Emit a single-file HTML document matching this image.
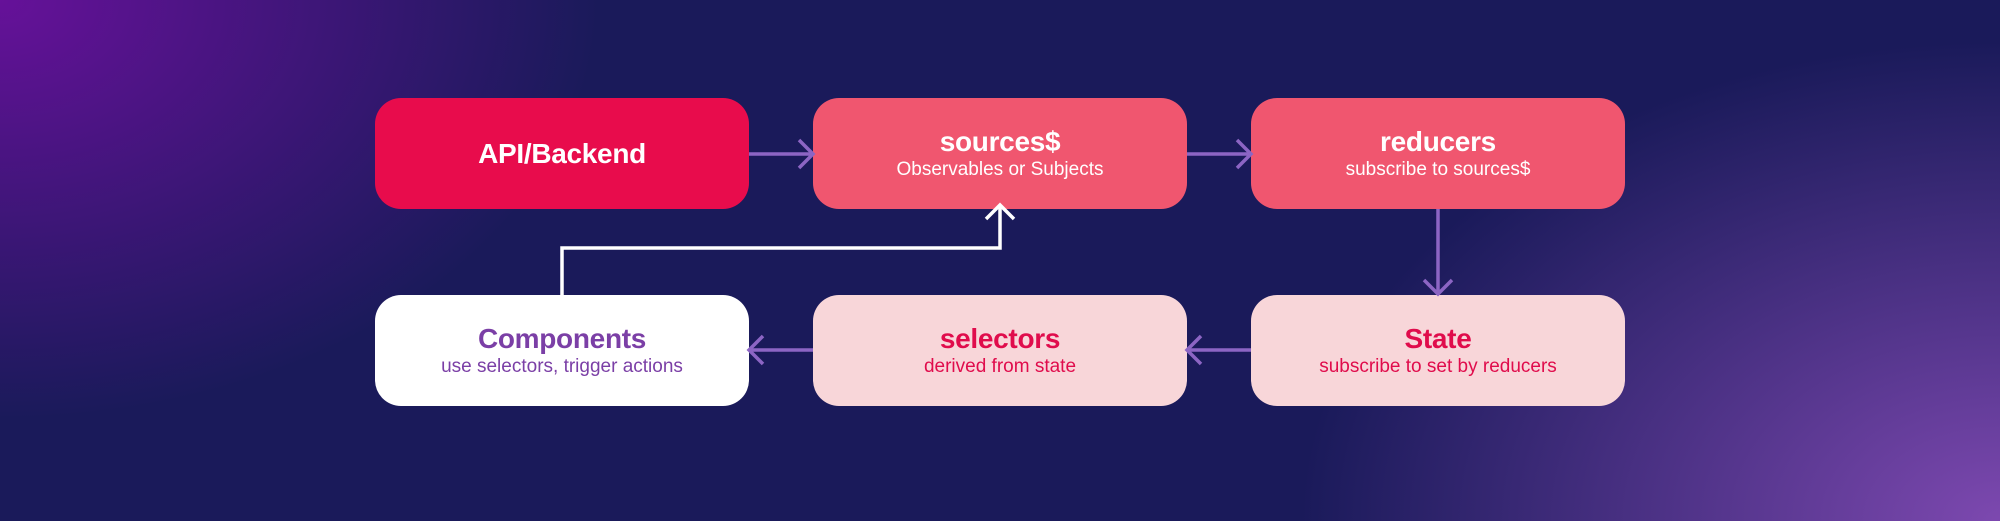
<!DOCTYPE html>
<html><head><meta charset="utf-8"><style>
html,body{margin:0;padding:0}
body{width:2000px;height:521px;position:relative;overflow:hidden;font-family:"Liberation Sans",sans-serif;
background:
radial-gradient(ellipse 600px 420px at 0% 0%, rgba(110,16,160,0.9), rgba(110,16,160,0) 100%),
radial-gradient(ellipse 700px 480px at 100% 100%, rgba(130,75,180,0.95), rgba(130,75,180,0) 100%),
#1a1a5a;}
.b{position:absolute;width:374px;height:111px;border-radius:26px;display:flex;flex-direction:column;align-items:center;justify-content:center;text-align:center}
.t{font-weight:bold;font-size:28px;line-height:32px;letter-spacing:-0.3px}
.s{font-size:19px;line-height:24px}
svg{position:absolute;left:0;top:0}
</style></head><body>
<div class="b" style="left:375px;top:98px;background:#e80c4c;color:#fff"><div class="t">API/Backend</div></div>
<div class="b" style="left:813px;top:98px;background:#f0566f;color:#fff"><div class="t">sources$</div><div class="s">Observables or Subjects</div></div>
<div class="b" style="left:1251px;top:98px;background:#f0566f;color:#fff"><div class="t">reducers</div><div class="s">subscribe to sources$</div></div>
<div class="b" style="left:375px;top:295px;background:#fff;color:#7b3fa6"><div class="t">Components</div><div class="s">use selectors, trigger actions</div></div>
<div class="b" style="left:813px;top:295px;background:#f8d6d9;color:#e00c4c"><div class="t">selectors</div><div class="s">derived from state</div></div>
<div class="b" style="left:1251px;top:295px;background:#f8d6d9;color:#e00c4c"><div class="t">State</div><div class="s">subscribe to set by reducers</div></div>
<svg width="2000" height="521" viewBox="0 0 2000 521" fill="none" stroke-width="3.5">
<g stroke="#8c65c4">
<path d="M749 154H811M799 140L813 154L799 168"/>
<path d="M1187 154H1249M1237 140L1251 154L1237 168"/>
<path d="M1438 209V292M1424 280L1438 294L1452 280"/>
<path d="M1251 350H1189M1201 336L1187 350L1201 364"/>
<path d="M813 350H751M763 336L749 350L763 364"/>
</g>
<path stroke="#fff" d="M562 295V248H1000V205M986 219L1000 205L1014 219"/>
</svg>
</body></html>
